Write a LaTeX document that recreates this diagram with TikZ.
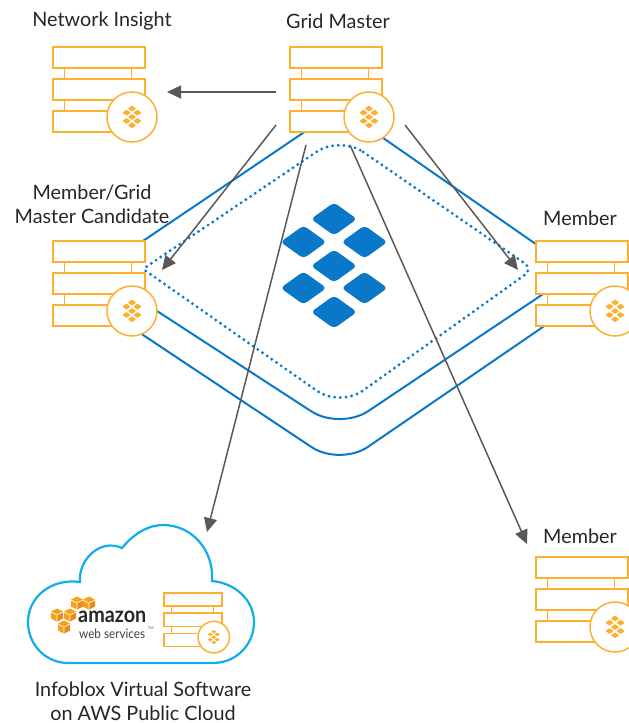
\documentclass[tikz,border=0pt]{standalone}
\usepackage{fontspec}
\setmainfont{Lato}
\usetikzlibrary{arrows.meta}
\definecolor{srvorange}{HTML}{FDB02F}
\definecolor{netblue}{HTML}{0A78C8}
\definecolor{cloudblue}{HTML}{0FAEEA}
\definecolor{arrowgray}{HTML}{595959}
\definecolor{cubeorange}{HTML}{F7A11B}
\definecolor{cubedark}{HTML}{E88B1A}
\def\petals#1{%
	\foreach \px/\py in {0/-47, -30.5/-24, 30.5/-24, 0/0, -30.5/22, 30.5/22, 0/46}
		\fill[rounded corners=#1] (\px-23,\py) -- (\px,\py-16.5) -- (\px+23,\py) -- (\px,\py+16.5) -- cycle;
}
\tikzset{
	x=1pt, y=-1pt,
	label/.style={font=\fontsize{19.8}{24}\selectfont, text=black!85, align=center, inner sep=0pt},
	net/.style={draw=netblue, line width=2pt},
	flow/.style={draw=arrowgray, line width=1.5pt, -{Triangle[length=14pt,width=13pt]}},
	srvbig/.style={line width=2.5pt},
	srvsmall/.style={scale=.63, line width=1.5pt},
	server/.pic={
		\draw[srvorange, fill=white, line width=1pt] (11.5,21) rectangle (78,32);
		\draw[srvorange, fill=white, line width=1pt] (11.5,53) rectangle (78,64);
		\draw[srvorange, fill=white] (0,0) rectangle (92,21);
		\draw[srvorange, fill=white] (0,32) rectangle (92,53);
		\draw[srvorange, fill=white] (0,64) rectangle (92,85);
		\draw[srvorange, fill=white, line width=1.5pt] (79,70) circle (25);
		\begin{scope}[shift={(79,70)}, scale=.18, srvorange]
			\petals{.6pt}
		\end{scope}
	},
	awscube/.pic={
		\fill[cubeorange] (-6,-3.5) -- (0,-6.5) -- (6,-3.5) -- (0,-.5) -- cycle;
		\fill[cubeorange] (-6,-2.5) -- (-.4,.4) -- (-.4,6.5) -- (-6,3.5) -- cycle;
		\fill[cubedark] (6,-2.5) -- (.4,.4) -- (.4,6.5) -- (6,3.5) -- cycle;
	}
}
\begin{document}
\begin{tikzpicture}
	\clip (0,0) rectangle (629,723);

	% grid network
	\draw[net, rounded corners=34pt] (340,108) -- (576,272) -- (340,430) -- (97,272) -- cycle;
	\draw[net, rounded corners=34pt] (110,313) -- (340,466) [rounded corners=10pt] -- (556,318) -- (549,309);
	\draw[netblue, line width=3.2pt, line cap=round, dash pattern=on 0pt off 5.7pt, rounded corners=28pt]
		(340,136) [rounded corners=10pt] -- (533,269) [rounded corners=28pt] -- (340,407) [rounded corners=3pt] -- (143,269) [rounded corners=28pt] -- cycle;

	\begin{scope}[shift={(334,266)}, netblue]
		\petals{4pt}
	\end{scope}

	% appliances
	\pic[srvbig] (insight)   at (53,47)   {server};
	\pic[srvbig] (master)    at (290,47)  {server};
	\pic[srvbig] (candidate) at (53,241)  {server};
	\pic[srvbig] (memberA)   at (536,241) {server};
	\pic[srvbig] (memberB)   at (536,557) {server};

	\node[label] (insightL)   at (102,21)  {Network Insight};
	\node[label] (masterL)    at (338,21)  {Grid Master};
	\node[label] (candidateL) at (92,204)  {Member/Grid\\Master Candidate};
	\node[label] (memberAL)   at (580,218) {Member};
	\node[label] (memberBL)   at (580,536) {Member};
	\node[label] (cloudL)     at (143,701) {Infoblox Virtual Software\\on AWS Public Cloud};

	% cloud
	\draw[cloudblue, line width=2.2pt] (28,622)
		.. controls (28,598) and (50,578) .. (80,582)
		.. controls (78,560) and (100,538) .. (122,548)
		.. controls (135,532) and (150,525) .. (163,525)
		.. controls (192,525) and (214,550) .. (212,581)
		.. controls (235,583) and (254,600) .. (254,622)
		.. controls (254,645) and (236,663) .. (213,663)
		-- (68,663)
		.. controls (46,663) and (28,645) .. (28,622) -- cycle;

	\pic at (77,603) {awscube};
	\pic at (89,603) {awscube};
	\pic at (57,615) {awscube};
	\pic at (70,615) {awscube};
	\pic at (64,627) {awscube};
	\node[inner sep=0pt, anchor=west, font=\fontsize{22}{22}\bfseries\selectfont, text=black!85] (awsA) at (78,617) {\scalebox{.9}[1]{amazon}};
	\node[inner sep=0pt, anchor=west, font=\fontsize{13}{13}\selectfont, text=black!75] (awsB) at (79,634) {\scalebox{.9}[1]{web services}};
	\node[inner sep=0pt, anchor=west, font=\fontsize{3.5}{4}\selectfont, text=black!75] (awsC) at (148,628) {TM};
	\pic[srvsmall] (awsserver) at (164,593) {server};

	% flows
	\coordinate (masterW)  at (276,92);
	\coordinate (insightE) at (167,92);
	\coordinate (masterSW) at (276,125);
	\coordinate (candE)    at (162,270);
	\coordinate (masterSL) at (306,145);
	\coordinate (cloudN)   at (207,532);
	\coordinate (masterSR) at (350,145);
	\coordinate (memberBN) at (527,544);
	\coordinate (masterSE) at (405,125);
	\coordinate (memberAW) at (518,270);

	\draw[flow] (masterW)  -- (insightE);
	\draw[flow] (masterSW) -- (candE);
	\draw[flow] (masterSL) -- (cloudN);
	\draw[flow] (masterSR) -- (memberBN);
	\draw[flow] (masterSE) -- (memberAW);
\end{tikzpicture}
\end{document}
